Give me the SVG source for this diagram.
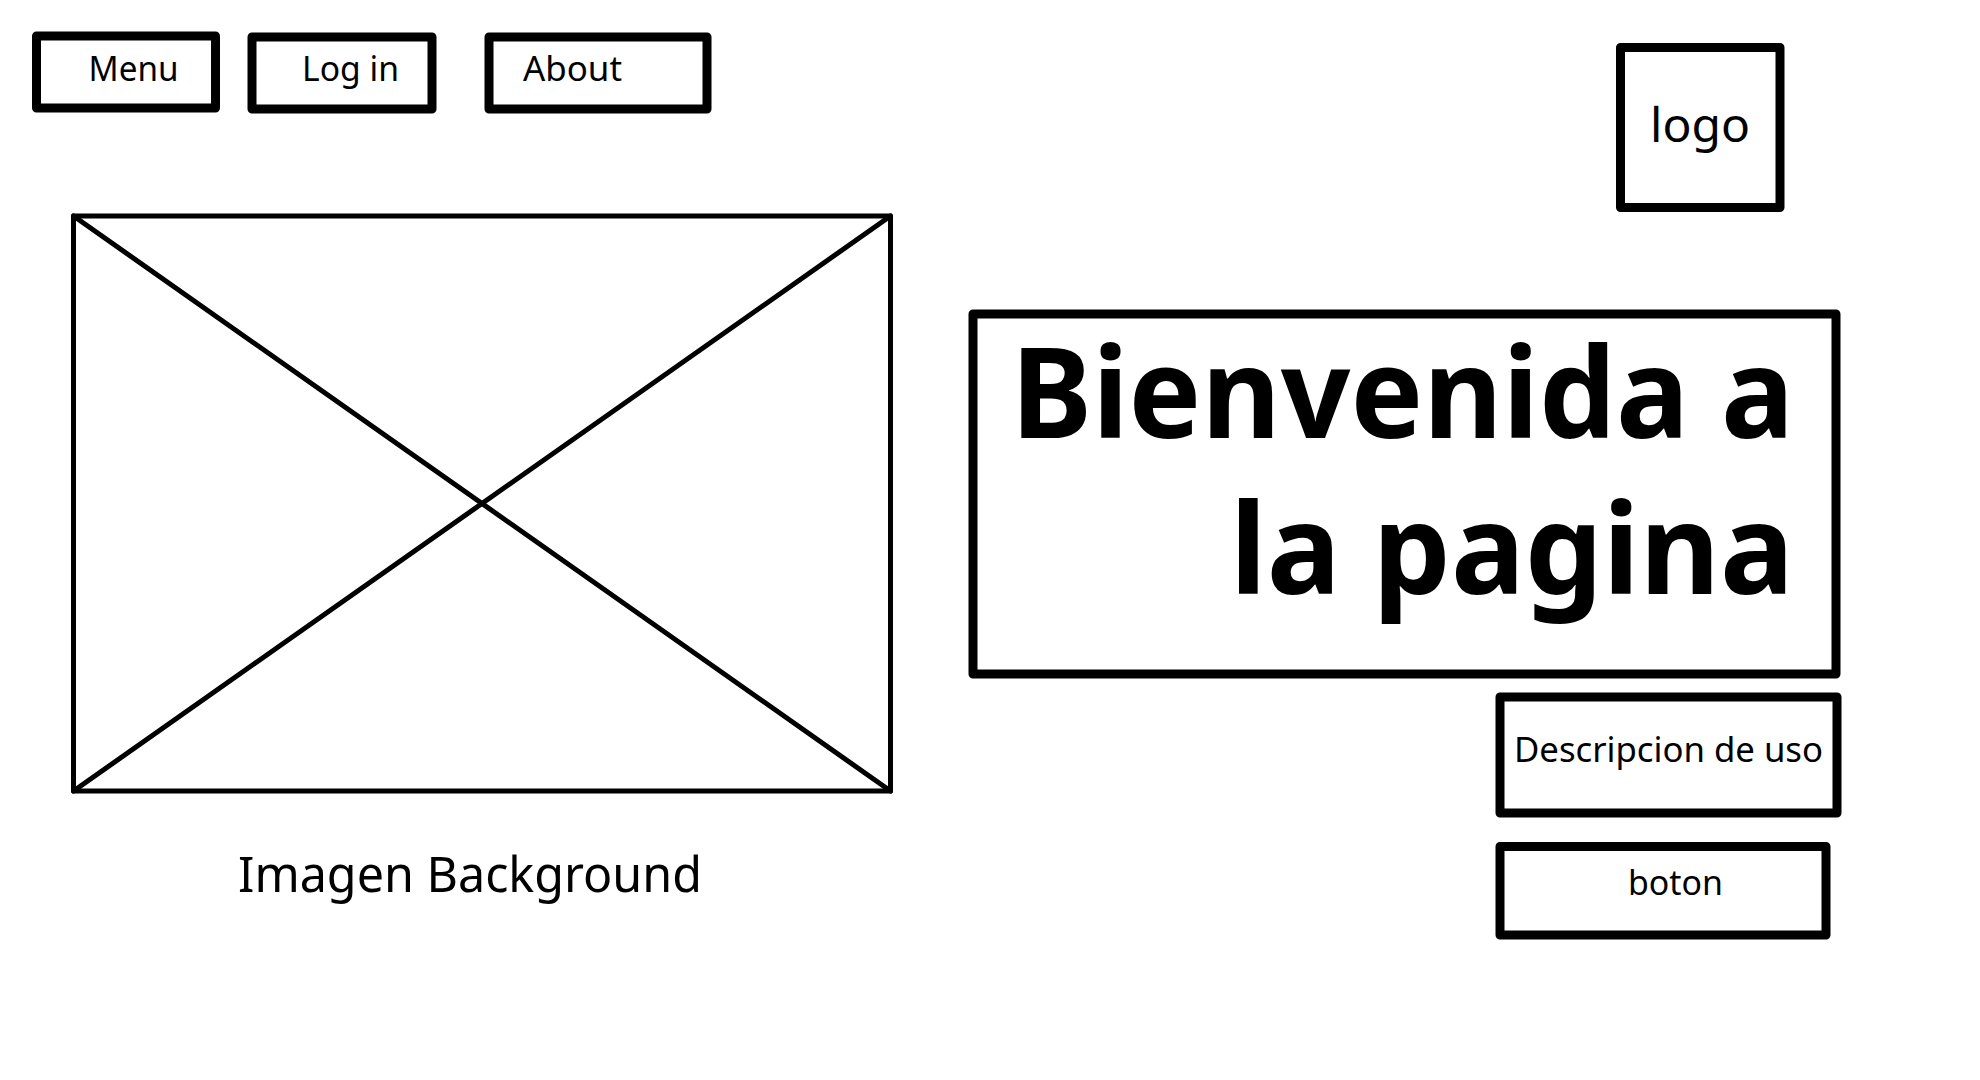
<svg xmlns="http://www.w3.org/2000/svg" width="1980" height="1080" viewBox="0 0 1980 1080">
<style>
.box{fill:none;stroke:#000;stroke-width:9;stroke-linejoin:round}
.thin{fill:none;stroke:#000;stroke-width:5;stroke-linejoin:round;stroke-linecap:round}
.t{font-family:"Noto Sans","Open Sans","Liberation Sans",sans-serif;fill:#000}
</style>
<rect width="1980" height="1080" fill="#fff"/>
<g id="menu">
<rect class="box" x="36.5" y="36" width="179" height="72"/>
<text class="t" x="88.5" y="81" font-size="34" textLength="90" lengthAdjust="spacingAndGlyphs">Menu</text>
</g>
<g id="login">
<rect class="box" x="252" y="37" width="180" height="72"/>
<text class="t" x="302" y="81" font-size="34" textLength="97" lengthAdjust="spacingAndGlyphs">Log in</text>
</g>
<g id="about">
<rect class="box" x="489" y="37" width="218" height="72"/>
<text class="t" x="523" y="81" font-size="34" textLength="99" lengthAdjust="spacingAndGlyphs">About</text>
</g>
<g id="logo">
<rect class="box" stroke-width="7" x="1620.5" y="47.5" width="159.5" height="160"/>
<text class="t" x="1650" y="141.5" font-size="48" textLength="100" lengthAdjust="spacingAndGlyphs">logo</text>
</g>
<g id="imagen">
<rect class="thin" x="73.5" y="216" width="817" height="575"/>
<line class="thin" x1="73.5" y1="216" x2="890.5" y2="791"/>
<line class="thin" x1="890.5" y1="216" x2="73.5" y2="791"/>
<text class="t" x="238" y="891.5" font-size="50" textLength="464" lengthAdjust="spacingAndGlyphs">Imagen Background</text>
</g>
<g id="titulo">
<rect class="box" stroke-width="10" x="973" y="314" width="863" height="360"/>
<text class="t" x="1794" y="437.5" font-size="126" font-weight="bold" text-anchor="end" textLength="783" lengthAdjust="spacingAndGlyphs">Bienvenida a</text>
<text class="t" x="1794" y="594" font-size="126" font-weight="bold" text-anchor="end" textLength="564" lengthAdjust="spacingAndGlyphs">la pagina</text>
</g>
<g id="descripcion">
<rect class="box" stroke-width="10" x="1500" y="697" width="337" height="116"/>
<text class="t" x="1514" y="761.5" font-size="34" textLength="309" lengthAdjust="spacingAndGlyphs">Descripcion de uso</text>
</g>
<g id="boton">
<rect class="box" stroke-width="10" x="1500" y="846.5" width="326" height="88.5"/>
<text class="t" x="1628" y="895" font-size="34" textLength="95" lengthAdjust="spacingAndGlyphs">boton</text>
</g>
<g id="connectors"/>
</svg>
